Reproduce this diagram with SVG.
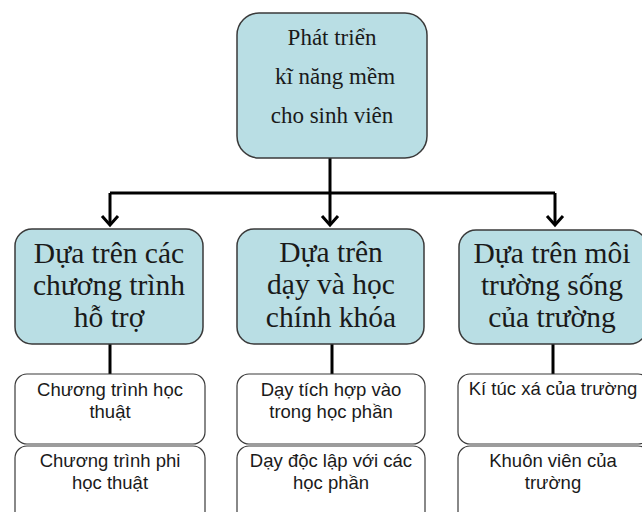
<svg xmlns="http://www.w3.org/2000/svg" width="642" height="512" viewBox="0 0 642 512">
<defs>
<style>
.blue{fill:#b9dee4;stroke:#3a3a3a;stroke-width:1.5}
.white{fill:#ffffff;stroke:#3a3a3a;stroke-width:1.2}
.serif{font-family:"Liberation Serif","Times New Roman",serif;fill:#1a1a1a;text-anchor:middle}
.sans{font-family:"Liberation Sans",Arial,sans-serif;fill:#1a1a1a;text-anchor:middle;font-size:18.5px}
.conn{fill:none;stroke:#000;stroke-width:3}
.head{fill:none;stroke:#000;stroke-width:3;stroke-linejoin:miter}
</style>
</defs>
<rect width="642" height="512" fill="#ffffff"/>
<g id="connectors">
<path class="conn" d="M330,158 V193"/>
<path class="conn" d="M110,193 H555"/>
<path class="conn" d="M110,193 V225"/>
<path class="conn" d="M330,193 V225"/>
<path class="conn" d="M555,193 V225"/>
<polyline class="head" points="102,216 110,225 118,216"/>
<polyline class="head" points="322,216 330,225 338,216"/>
<polyline class="head" points="547,216 555,225 563,216"/>
<path class="conn" d="M110,344 V374"/>
<path class="conn" d="M332,344 V374"/>
<path class="conn" d="M553,344 V374"/>
</g>
<g id="root">
<rect class="blue" x="237" y="13" width="190" height="145" rx="22"/>
<text class="serif" font-size="23" x="332" y="45">Phát triển</text>
<text class="serif" font-size="23" x="335" y="84">kĩ năng mềm</text>
<text class="serif" font-size="23" x="332" y="123">cho sinh viên</text>
</g>
<g id="b1">
<rect class="blue" x="15" y="229" width="188" height="115" rx="17"/>
<text class="serif" font-size="29.5" x="109" y="263">Dựa trên các</text>
<text class="serif" font-size="29.5" x="109" y="295">chương trình</text>
<text class="serif" font-size="29.5" x="109" y="327">hỗ trợ</text>
</g>
<g id="b2">
<rect class="blue" x="237" y="229" width="187" height="115" rx="17"/>
<text class="serif" font-size="29.5" x="331" y="262">Dựa trên</text>
<text class="serif" font-size="29.5" x="331" y="294">dạy và học</text>
<text class="serif" font-size="29.5" x="331" y="327">chính khóa</text>
</g>
<g id="b3">
<rect class="blue" x="459" y="230" width="188" height="114" rx="17"/>
<text class="serif" font-size="29.5" x="552" y="263">Dựa trên môi</text>
<text class="serif" font-size="29.5" x="552" y="295">trường sống</text>
<text class="serif" font-size="29.5" x="552" y="327">của trường</text>
</g>
<g id="c1">
<rect class="white" x="15" y="374" width="190" height="70" rx="12"/>
<text class="sans" x="110" y="396">Chương trình học</text>
<text class="sans" x="110" y="418">thuật</text>
</g>
<g id="c2">
<rect class="white" x="15" y="446" width="190" height="80" rx="12"/>
<text class="sans" x="110" y="467">Chương trình phi</text>
<text class="sans" x="110" y="489">học thuật</text>
</g>
<g id="c3">
<rect class="white" x="237" y="374" width="188" height="70" rx="12"/>
<text class="sans" x="331" y="396">Dạy tích hợp vào</text>
<text class="sans" x="331" y="418">trong học phần</text>
</g>
<g id="c4">
<rect class="white" x="237" y="446" width="188" height="80" rx="12"/>
<text class="sans" x="331" y="467">Dạy độc lập với các</text>
<text class="sans" x="331" y="489">học phần</text>
</g>
<g id="c5">
<rect class="white" x="458" y="374" width="192" height="70" rx="12"/>
<text class="sans" x="553" y="395">Kí túc xá của trường</text>
</g>
<g id="c6">
<rect class="white" x="458" y="446" width="192" height="80" rx="12"/>
<text class="sans" x="553" y="467">Khuôn viên của</text>
<text class="sans" x="553" y="489">trường</text>
</g>
</svg>
